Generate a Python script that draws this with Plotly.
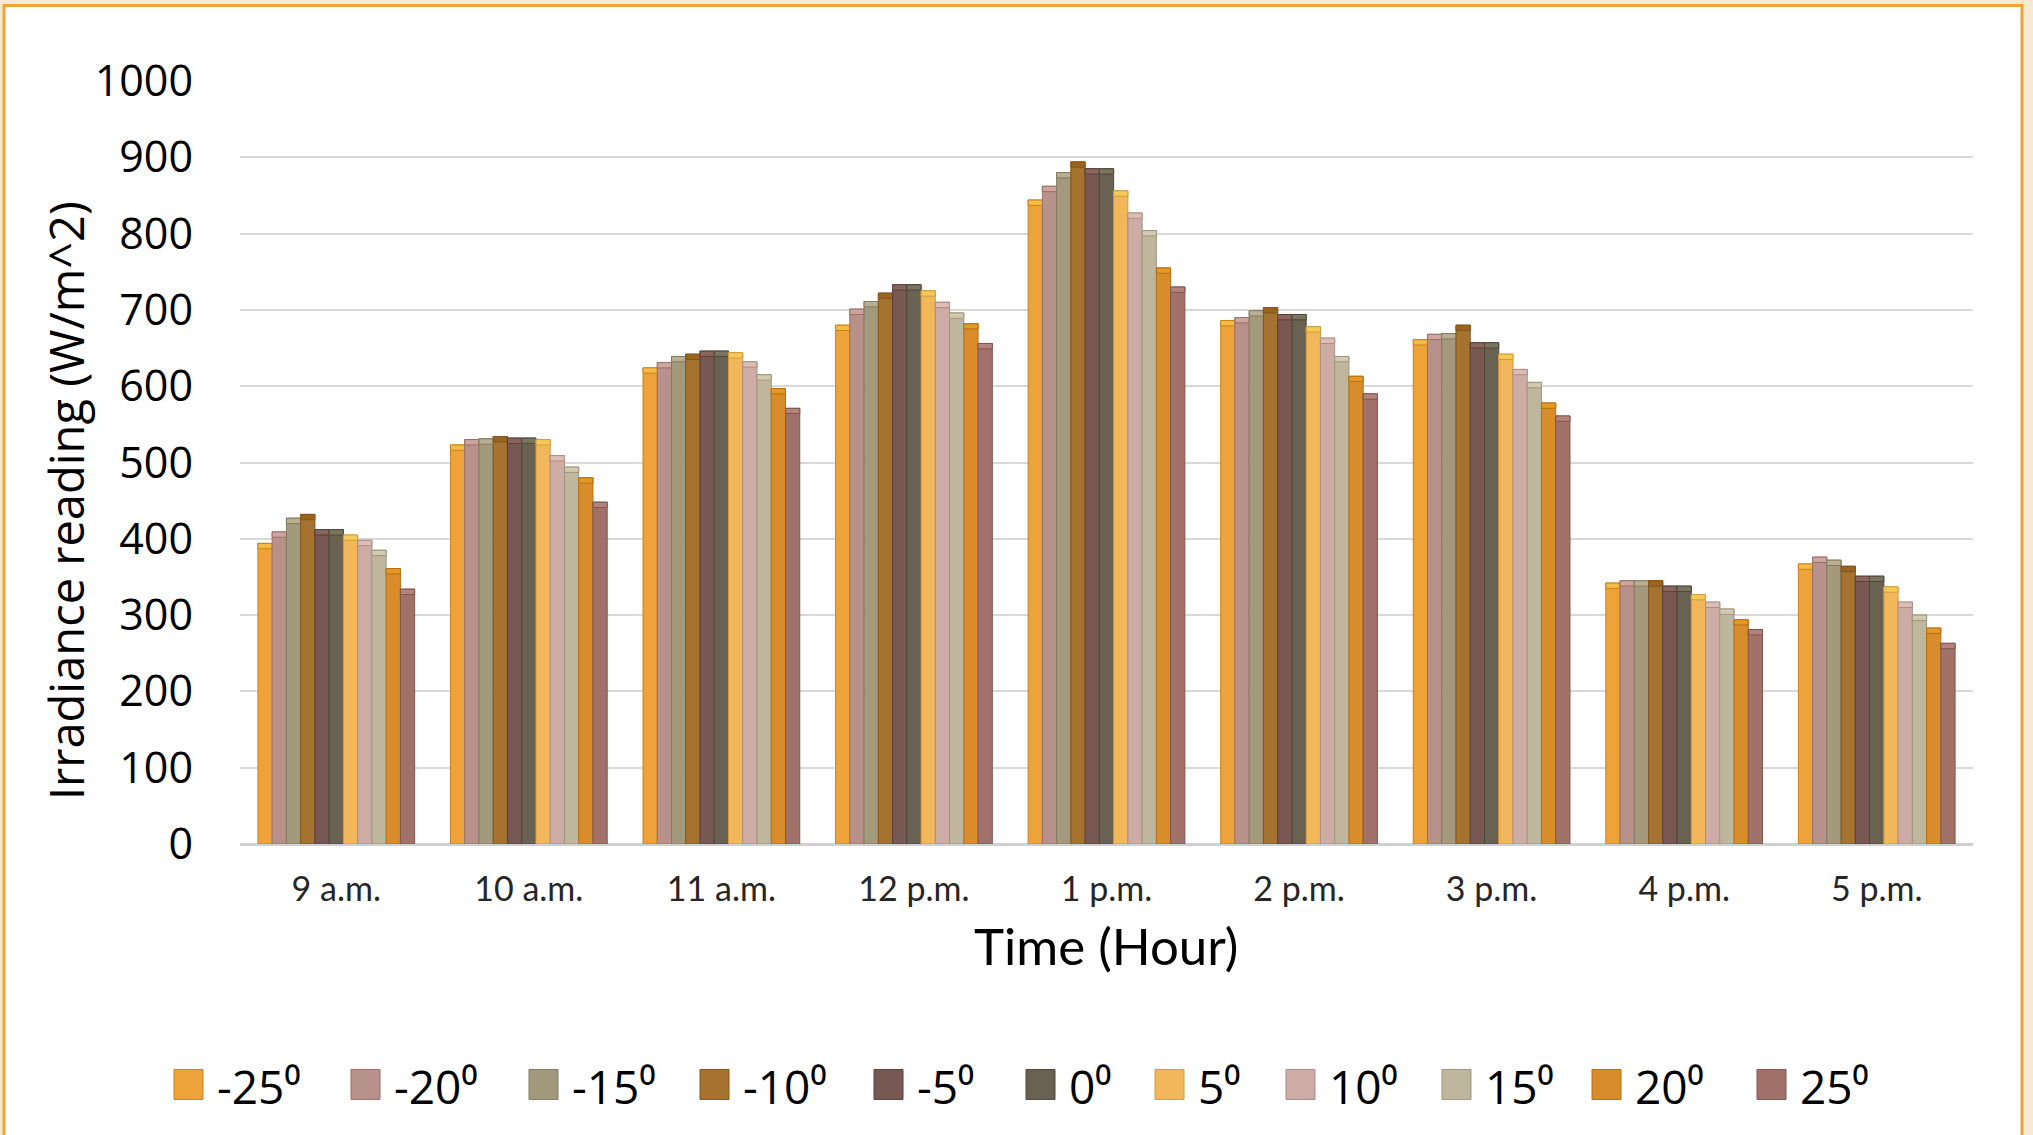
import plotly.graph_objects as go

# ---- data ---------------------------------------------------------------
hours = ["9 a.m.", "10 a.m.", "11 a.m.", "12 p.m.", "1 p.m.",
         "2 p.m.", "3 p.m.", "4 p.m.", "5 p.m."]

tilt_angles = ["-25", "-20", "-15", "-10", "-5", "0", "5", "10", "15", "20", "25"]

irr_m25 = [394, 523, 624, 680, 844, 686, 661, 342, 367]
irr_m20 = [409, 530, 631, 701, 862, 690, 668, 345, 376]
irr_m15 = [427, 531, 639, 711, 880, 699, 669, 345, 372]
irr_m10 = [432, 534, 642, 722, 894, 703, 680, 345, 364]
irr_m05 = [412, 532, 646, 733, 885, 694, 657, 338, 351]
irr_000 = [412, 532, 646, 733, 885, 694, 657, 338, 351]
irr_p05 = [405, 530, 644, 725, 856, 678, 642, 327, 337]
irr_p10 = [398, 509, 632, 710, 827, 663, 622, 317, 317]
irr_p15 = [385, 494, 615, 696, 804, 639, 605, 308, 300]
irr_p20 = [361, 480, 597, 682, 755, 613, 578, 294, 283]
irr_p25 = [334, 448, 571, 656, 730, 590, 561, 281, 263]

y_ticks = [0, 100, 200, 300, 400, 500, 600, 700, 800, 900, 1000]

series = [irr_m25, irr_m20, irr_m15, irr_m10, irr_m05, irr_000,
          irr_p05, irr_p10, irr_p15, irr_p20, irr_p25]

# ---- styling ------------------------------------------------------------
colors = ["#EDA23A", "#B8918A", "#A39A7E", "#A5732F", "#785852", "#696252",
          "#F2B75A", "#CDACA5", "#BEB69D", "#D88C2A", "#A0726A"]
edges = ["#C9821F", "#96716A", "#847B60", "#83561C", "#5B403B", "#4E4839",
         "#D39A3D", "#AE8C85", "#9F977D", "#B56F17", "#80554E"]
caps = ["#F4BC45", "#CFA59D", "#B9B093", "#9A6420", "#8A655E", "#7B745F",
        "#F6CB55", "#DDBDB6", "#D2CBB1", "#E39A22", "#B4847C"]
CAP = 7  # thickness of the bevelled top, in axis units

W, H = 2033, 1135
L, R, T, B = 240, 1973, 80.5, 844.3


def px(x):
    return (x - L) / (R - L)


def py(y):
    return (B - y) / (B - T)


fig = go.Figure()
for i, (name, vals, c, e, cp) in enumerate(zip(tilt_angles, series, colors, edges, caps)):
    fig.add_trace(go.Bar(
        x=hours, y=vals, name=name + "°", offsetgroup=str(i),
        marker=dict(color=c, line=dict(color=e, width=1)),
        showlegend=False,
    ))
    fig.add_trace(go.Bar(
        x=hours, y=[CAP] * len(vals), base=[v - CAP for v in vals],
        offsetgroup=str(i), hoverinfo="skip",
        marker=dict(color=cp, line=dict(color=e, width=1)),
        showlegend=False,
    ))

# frame: white panel with orange border over a cream page
shapes = [dict(type="rect", xref="paper", yref="paper",
               x0=px(4), x1=px(2022), y0=py(1150), y1=py(5),
               fillcolor="white", line=dict(color="#F2A43A", width=3),
               layer="below")]

# legend drawn as swatches + labels
legend_x = [174, 351, 529, 700, 874, 1026, 1155, 1286, 1442, 1592, 1757]
legend_y = 1085
sw_w, sw_h = 29, 30
annotations = []
for lx, name, c, e in zip(legend_x, tilt_angles, colors, edges):
    shapes.append(dict(type="rect", xref="paper", yref="paper",
                       x0=px(lx), x1=px(lx + sw_w),
                       y0=py(legend_y + sw_h / 2), y1=py(legend_y - sw_h / 2),
                       fillcolor=c, line=dict(color=e, width=1)))
    annotations.append(dict(xref="paper", yref="paper",
                            x=px(lx + sw_w + 12), y=py(legend_y + 2),
                            xanchor="left", yanchor="middle", showarrow=False,
                            text=name + "⁰",
                            font=dict(family="Open Sans", size=46, color="black")))

annotations.append(dict(xref="paper", yref="paper", x=px(1106), y=py(946),
                        xanchor="center", yanchor="middle", showarrow=False,
                        text="Time (Hour)",
                        font=dict(family="Lato", size=51, color="black")))
annotations.append(dict(xref="paper", yref="paper", x=px(66), y=py(501),
                        xanchor="center", yanchor="middle", showarrow=False,
                        textangle=-90, text="Irradiance reading (W/m^2)",
                        font=dict(family="Open Sans", size=47, color="black")))

fig.update_layout(
    width=W, height=H,
    margin=dict(l=L, r=W - R, t=T, b=H - B, pad=0),
    paper_bgcolor="#F6EAD2",
    plot_bgcolor="white",
    barmode="group",
    bargap=0.186,
    bargroupgap=0,
    shapes=shapes,
    annotations=annotations,
    showlegend=False,
)

fig.update_xaxes(
    showgrid=False, showline=False, zeroline=False,
    ticks="", ticklabelstandoff=22,
    tickfont=dict(family="Lato", size=34, color="#262626"),
)
fig.update_yaxes(
    range=[0, 1000], tickvals=y_ticks,
    showgrid=True, gridcolor="#D9D9D9", gridwidth=2,
    zeroline=True, zerolinecolor="#D0D0D0", zerolinewidth=3,
    showline=False, ticks="", ticklabelstandoff=46,
    tickfont=dict(family="Open Sans", size=43, color="black"),
)

fig.write_html("out.html")
